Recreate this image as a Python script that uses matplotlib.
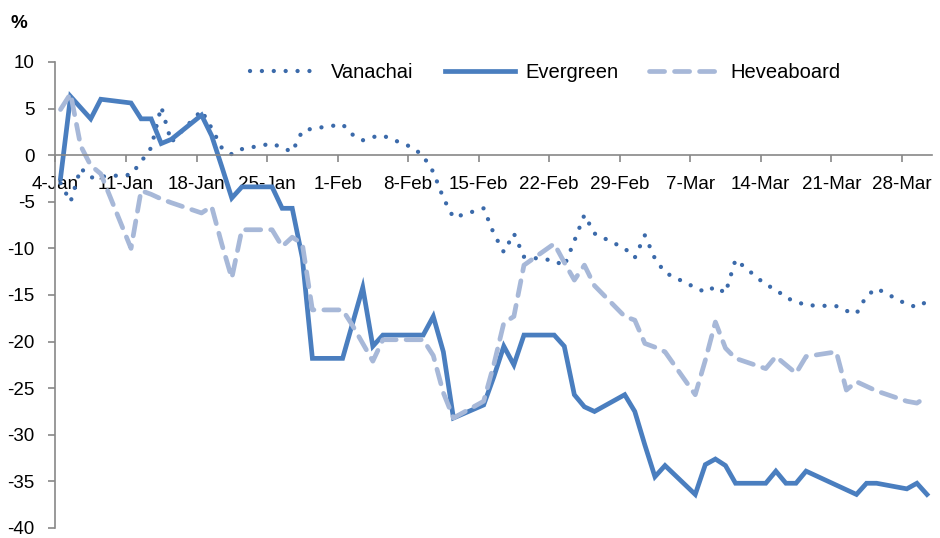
import datetime as dt
import matplotlib
matplotlib.use('Agg')
import matplotlib.pyplot as plt
import matplotlib.dates as mdates

plt.rcParams['font.family'] = ['Liberation Sans', 'DejaVu Sans']
plt.rcParams['axes.unicode_minus'] = False

# trading days (2016)
jan_days = [4, 5, 6, 7, 8, 11, 12, 13, 14, 15, 18, 19, 20, 21, 22, 25, 26, 27, 28, 29]
feb_days = [1, 2, 3, 4, 5, 8, 9, 10, 11, 12, 15, 16, 17, 18, 19, 22, 23, 24, 25, 26, 29]
mar_days = [1, 2, 3, 4, 7, 8, 9, 10, 11, 14, 15, 16, 17, 18, 21, 22, 23, 24, 25, 28, 29, 30]

vanachai = [-3.0, -5.0, -1.4, -2.4, -2.3, -2.1, -0.7, 0.8, 5.2, 1.4,
            4.8, 2.9, 0.8, 0.1, 0.65, 1.25, 0.8, 0.36, 2.6, 2.85,
            3.3, 2.2, 1.6, 1.95, 2.1, 0.8, -0.1, -1.8, -4.6, -6.7,
            -5.7, -8.4, -10.4, -8.4, -10.9, -11.3, -11.9, -9.2, -6.4, -8.4, -10.0,
            -11.0, -8.6, -11.1, -12.6, -14.2, -14.7, -14.1, -14.8, -11.2, -13.9,
            -14.4, -15.3, -15.7, -16.1, -16.2, -16.7, -17.0, -15.1, -14.3, -16.0,
            -16.3, -15.7]

evergreen = [-2.5, 6.3, 5.1, 3.9, 6.0, 5.6, 3.9, 3.9, 1.25, 1.7,
             4.3, 2.1, -1.2, -4.6, -3.4, -3.4, -5.7, -5.7, -11.0, -21.8,
             -21.8, -18.0, -14.2, -20.5, -19.3, -19.3, -19.3, -17.3, -21.1, -28.2,
             -26.8, -23.8, -20.5, -22.5, -19.3, -19.3, -20.5, -25.7, -27.0, -27.5, -25.7,
             -27.5, -31.1, -34.5, -33.3, -36.4, -33.2, -32.6, -33.3, -35.2, -35.2,
             -33.9, -35.2, -35.2, -33.9, -35.4, -35.9, -36.4, -35.2, -35.2, -35.8,
             -35.2, -36.4]

heveaboard = [4.9, 6.6, 1.0, -1.1, -2.0, -10.0, -3.8, -4.2, -4.7, -5.1,
              -6.2, -5.5, -9.5, -13.2, -8.0, -8.0, -9.8, -8.8, -9.5, -16.6,
              -16.6, -18.3, -20.2, -22.1, -19.8, -19.8, -19.8, -21.5, -25.5, -28.2,
              -26.4, -22.5, -18.0, -17.3, -11.8, -9.5, -11.5, -13.4, -11.8, -14.0, -17.3,
              -17.7, -20.2, -20.6, -21.1, -25.7, -22.0, -17.9, -20.7, -21.8, -22.9,
              -21.6, -22.5, -23.4, -21.6, -21.1, -25.2, -24.3, -24.8, -25.3, -26.4,
              -26.6, -25.9]

dates = ([dt.date(2016, 1, d) for d in jan_days] +
         [dt.date(2016, 2, d) for d in feb_days] +
         [dt.date(2016, 3, d) for d in mar_days])
# excel date axis puts each point in the middle of its day
x = mdates.date2num(dates) + 0.5

tick_dates = [dt.date(2016, 1, 4) + dt.timedelta(days=7 * i) for i in range(13)]
tick_labels = [f"{d.day}-{d:%b}" for d in tick_dates]

c_van = '#3b6aaa'
c_evg = '#4a7ebf'
c_hev = '#a7b8d8'

fig = plt.figure(figsize=(9.4, 5.38), dpi=100)
ax = fig.add_axes([0.059, 0.0186, 0.9325, 0.8662])

ax.plot(x, vanachai, color=c_van, lw=3.1, linestyle=(0, (0.01, 2.75)),
        dash_capstyle='round', label='Vanachai')
ax.plot(x, evergreen, color=c_evg, lw=3.4, solid_joinstyle='miter',
        label='Evergreen')
ax.plot(x, heveaboard, color=c_hev, lw=3.4, linestyle=(0, (3.2, 2.1)),
        dash_capstyle='round', label='Heveaboard')

ax.set_xlim(mdates.date2num(dt.date(2016, 1, 4)), mdates.date2num(dt.date(2016, 3, 31)))
ax.set_ylim(-40, 10)
ax.set_yticks(range(-40, 11, 5))
ax.set_xticks(mdates.date2num(tick_dates))
ax.set_xticklabels(tick_labels)

for s in ['top', 'right']:
    ax.spines[s].set_visible(False)
ax.spines['bottom'].set_position(('data', 0))
for s in ['left', 'bottom']:
    ax.spines[s].set_color('#888888')
    ax.spines[s].set_linewidth(1.2)

ax.tick_params(axis='both', colors='#888888', length=5, width=1.2,
               labelsize=13.5, labelcolor='black')
ax.tick_params(axis='y', pad=10)
ax.tick_params(axis='x', pad=10)

fig.text(0.011, 0.957, '%', fontsize=13.5, fontweight='bold', va='center', ha='left')

fig.legend(loc='center', bbox_to_anchor=(0.58, 0.866), ncol=3, frameon=False,
           fontsize=14.5, handlelength=3.5, handletextpad=0.5, columnspacing=1.55)

fig.savefig('out.png', dpi=100)
